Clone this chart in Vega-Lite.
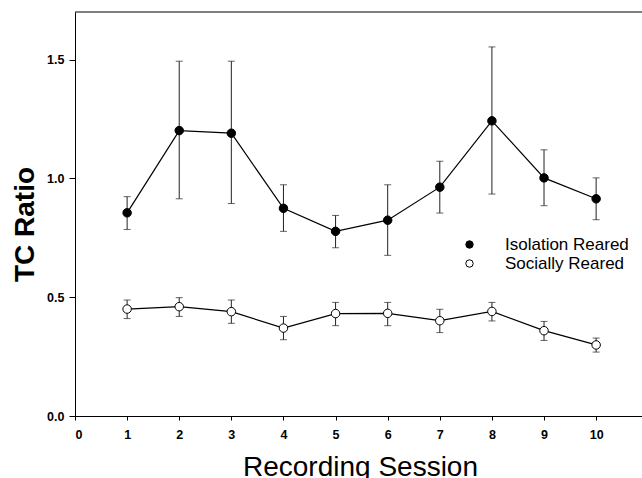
{
  "$schema": "https://vega.github.io/schema/vega-lite/v6.json",
  "width": 567,
  "height": 404,
  "autosize": {"type": "none"},
  "padding": {"left": 75, "top": 12, "right": 0, "bottom": 62},
  "background": "white",
  "config": {
    "view": {"stroke": null},
    "font": "Liberation Sans",
    "axis": {"grid": false, "domainColor": "black", "tickColor": "black", "labelColor": "black", "titleColor": "black", "labelFont": "Liberation Sans", "titleFont": "Liberation Sans"}
  },
  "data": {
    "values": [
      {"group": "Isolation Reared", "session": 1, "mean": 0.855, "lo": 0.785, "hi": 0.923},
      {"group": "Isolation Reared", "session": 2, "mean": 1.201, "lo": 0.914, "hi": 1.493},
      {"group": "Isolation Reared", "session": 3, "mean": 1.19, "lo": 0.894, "hi": 1.493},
      {"group": "Isolation Reared", "session": 4, "mean": 0.874, "lo": 0.777, "hi": 0.973},
      {"group": "Isolation Reared", "session": 5, "mean": 0.777, "lo": 0.708, "hi": 0.844},
      {"group": "Isolation Reared", "session": 6, "mean": 0.824, "lo": 0.676, "hi": 0.973},
      {"group": "Isolation Reared", "session": 7, "mean": 0.963, "lo": 0.854, "hi": 1.072},
      {"group": "Isolation Reared", "session": 8, "mean": 1.242, "lo": 0.934, "hi": 1.553},
      {"group": "Isolation Reared", "session": 9, "mean": 1.002, "lo": 0.885, "hi": 1.12},
      {"group": "Isolation Reared", "session": 10, "mean": 0.914, "lo": 0.826, "hi": 1.002},
      {"group": "Socially Reared", "session": 1, "mean": 0.45, "lo": 0.41, "hi": 0.488},
      {"group": "Socially Reared", "session": 2, "mean": 0.46, "lo": 0.419, "hi": 0.498},
      {"group": "Socially Reared", "session": 3, "mean": 0.439, "lo": 0.39, "hi": 0.488},
      {"group": "Socially Reared", "session": 4, "mean": 0.37, "lo": 0.321, "hi": 0.419},
      {"group": "Socially Reared", "session": 5, "mean": 0.431, "lo": 0.38, "hi": 0.478},
      {"group": "Socially Reared", "session": 6, "mean": 0.432, "lo": 0.38, "hi": 0.478},
      {"group": "Socially Reared", "session": 7, "mean": 0.401, "lo": 0.351, "hi": 0.449},
      {"group": "Socially Reared", "session": 8, "mean": 0.44, "lo": 0.4, "hi": 0.478},
      {"group": "Socially Reared", "session": 9, "mean": 0.359, "lo": 0.318, "hi": 0.398},
      {"group": "Socially Reared", "session": 10, "mean": 0.299, "lo": 0.269, "hi": 0.328}
    ]
  },
  "layer": [
    {
      "data": {"values": [{"edge": "top"}]},
      "mark": {"type": "rule", "color": "black", "strokeWidth": 1},
      "encoding": {
        "y": {"datum": 1.7, "type": "quantitative", "scale": {"domain": [0, 1.7], "nice": false}}
      }
    },
    {
      "mark": {"type": "errorbar", "color": "#222222", "thickness": 1, "ticks": {"size": 7, "color": "#222222"}},
      "encoding": {
        "x": {"field": "session", "type": "quantitative", "scale": {"domain": [0, 10.88], "nice": false}, "axis": {"values": [0,1,2,3,4,5,6,7,8,9,10], "title": "Recording Session", "labelFontSize": 12.5, "labelFontWeight": "bold", "tickSize": 4, "labelPadding": 8, "titleFontSize": 28, "titleFontWeight": "normal", "titleBaseline": "alphabetic", "titleY": 59, "titleX": 285}},
        "y": {"field": "lo", "type": "quantitative", "scale": {"domain": [0, 1.7], "nice": false}, "axis": {"values": [0, 0.5, 1, 1.5], "format": ".1f", "title": "TC Ratio", "labelFontSize": 12.5, "labelFontWeight": "bold", "tickSize": 6, "labelPadding": 5, "titleFontSize": 28, "titleFontWeight": "bold", "titleBaseline": "alphabetic", "titleAlign": "center", "titleAngle": -90, "titleX": -42, "titleY": 212}},
        "y2": {"field": "hi"},
        "detail": {"field": "group"}
      }
    },
    {
      "mark": {"type": "line", "color": "black", "strokeWidth": 1.2},
      "encoding": {
        "x": {"field": "session", "type": "quantitative", "scale": {"domain": [0, 10.88], "nice": false}, "axis": {"values": [0,1,2,3,4,5,6,7,8,9,10], "title": "Recording Session", "labelFontSize": 12.5, "labelFontWeight": "bold", "tickSize": 4, "labelPadding": 8, "titleFontSize": 28, "titleFontWeight": "normal", "titleBaseline": "alphabetic", "titleY": 59, "titleX": 285}},
        "y": {"field": "mean", "type": "quantitative", "scale": {"domain": [0, 1.7], "nice": false}, "axis": {"values": [0, 0.5, 1, 1.5], "format": ".1f", "title": "TC Ratio", "labelFontSize": 12.5, "labelFontWeight": "bold", "tickSize": 6, "labelPadding": 5, "titleFontSize": 28, "titleFontWeight": "bold", "titleBaseline": "alphabetic", "titleAlign": "center", "titleAngle": -90, "titleX": -42, "titleY": 212}},
        "detail": {"field": "group"}
      }
    },
    {
      "mark": {"type": "point", "shape": "circle", "filled": true, "size": 72, "stroke": "black", "strokeWidth": 1, "opacity": 1},
      "encoding": {
        "x": {"field": "session", "type": "quantitative", "scale": {"domain": [0, 10.88], "nice": false}, "axis": {"values": [0,1,2,3,4,5,6,7,8,9,10], "title": "Recording Session", "labelFontSize": 12.5, "labelFontWeight": "bold", "tickSize": 4, "labelPadding": 8, "titleFontSize": 28, "titleFontWeight": "normal", "titleBaseline": "alphabetic", "titleY": 59, "titleX": 285}},
        "y": {"field": "mean", "type": "quantitative", "scale": {"domain": [0, 1.7], "nice": false}, "axis": {"values": [0, 0.5, 1, 1.5], "format": ".1f", "title": "TC Ratio", "labelFontSize": 12.5, "labelFontWeight": "bold", "tickSize": 6, "labelPadding": 5, "titleFontSize": 28, "titleFontWeight": "bold", "titleBaseline": "alphabetic", "titleAlign": "center", "titleAngle": -90, "titleX": -42, "titleY": 212}},
        "fill": {
          "field": "group", "type": "nominal",
          "scale": {"domain": ["Isolation Reared", "Socially Reared"], "range": ["black", "white"]},
          "legend": {"orient": "none", "legendX": 386, "legendY": 224, "title": null, "symbolType": "circle", "symbolSize": 55, "symbolStrokeColor": "black", "symbolStrokeWidth": 1, "symbolOpacity": 1, "labelFontSize": 17, "labelFont": "Liberation Sans", "labelColor": "black", "labelOffset": 27, "rowPadding": 1}
        }
      }
    }
  ]
}
